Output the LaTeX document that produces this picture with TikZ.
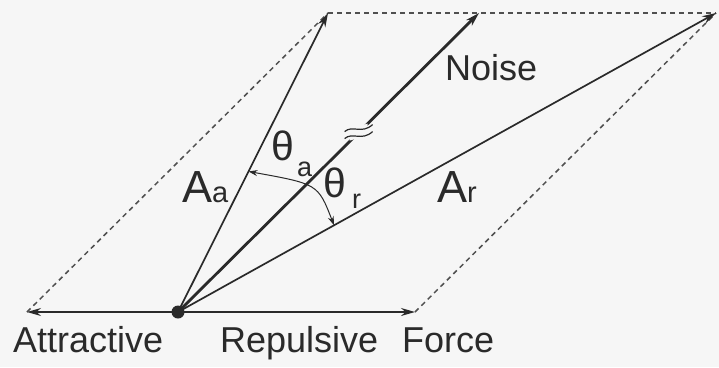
\documentclass[tikz,border=0pt]{standalone}
\usepackage{fontspec}
\setmainfont{Liberation Sans}
\usetikzlibrary{arrows.meta,calc}
\definecolor{bg}{HTML}{F6F6F6}
\definecolor{ink}{HTML}{2A2A2A}
\definecolor{dashc}{HTML}{505050}
\tikzset{
  vec/.style={draw=ink, line width=1.7pt, -{Stealth[length=14pt,width=8pt]}},
  noisevec/.style={vec, line width=2.8pt},
  guide/.style={draw=dashc, line width=1.5pt, dash pattern=on 5pt off 4pt},
  lbl/.style={inner sep=0pt, anchor=base west, text=ink},
  anglearc/.style={draw=ink, line width=1pt, {Stealth[length=9pt,width=6pt]}-{Stealth[length=9pt,width=6pt]}},
}
\begin{document}
\begin{tikzpicture}[x=1pt,y=-1pt]
  \fill[bg] (0,0) rectangle (719,367);
  \useasboundingbox (0,0) rectangle (719,367);
  % points
  \coordinate (O) at (178,312);
  \coordinate (L) at (27,312);
  \coordinate (R) at (415,312);
  \coordinate (N) at (479,13);
  \coordinate (Aa) at (328,13);
  \coordinate (Ar) at (716,13);
  % dashed parallelogram sides
  \draw[guide] (L) -- (Aa);
  \draw[guide] (Aa) -- (Ar);
  \draw[guide] (R) -- (Ar);
  % force axis
  \draw[draw=ink, line width=1.7pt, {Stealth[length=14pt,width=8pt]}-{Stealth[length=14pt,width=8pt]}] (L) -- (R);
  % vectors
  \draw[vec] (O) -- (Aa);
  \draw[vec] (O) -- (Ar);
  \draw[noisevec] (O) -- (N);
  % break mark on noise vector
  \begin{scope}[shift={($(O)!0.6!(N)$)}]
    \fill[bg] (-9,-4) -- (9,-9) -- (9,3) -- (-9,8) -- cycle;
    \draw[ink, line width=1.2pt] (-14,-1) .. controls (-6,-8) and (3,2) .. (14,-8);
    \draw[ink, line width=1.2pt] (-14,6) .. controls (-6,-1) and (3,9) .. (14,-1);
  \end{scope}
  % origin dot
  \node[circle, fill=ink, minimum size=13pt, inner sep=0pt] (dot) at (O) {};
  % angle arc
  \draw[anglearc] ($(O)!0.47!(Aa)$) .. controls (318,184) .. ($(O)!0.29!(Ar)$);
  % labels
  \node[lbl] (latt) at (13,352) {\fontsize{36}{36}\selectfont Attractive};
  \node[lbl] (lrep) at (220,352) {\fontsize{36}{36}\selectfont Repulsive};
  \node[lbl] (lfor) at (402,352) {\fontsize{36}{36}\selectfont Force};
  \node[lbl] (lnoise) at (445,80) {\fontsize{36}{36}\selectfont Noise};
  \node[lbl] (laa) at (182,202) {\fontsize{45}{45}\selectfont A\fontsize{29}{29}\selectfont a};
  \node[lbl] (lar) at (437,202) {\fontsize{45}{45}\selectfont A\fontsize{29}{29}\selectfont r};
  \node[lbl] (ltha) at (271,160) {\fontsize{41}{41}\selectfont θ};
  \node[lbl] (ltha2) at (297,176) {\fontsize{27}{27}\selectfont a};
  \node[lbl] (lthr) at (323,197) {\fontsize{41}{41}\selectfont θ};
  \node[lbl] (lthr2) at (352,208) {\fontsize{27}{27}\selectfont r};
\end{tikzpicture}
\end{document}
